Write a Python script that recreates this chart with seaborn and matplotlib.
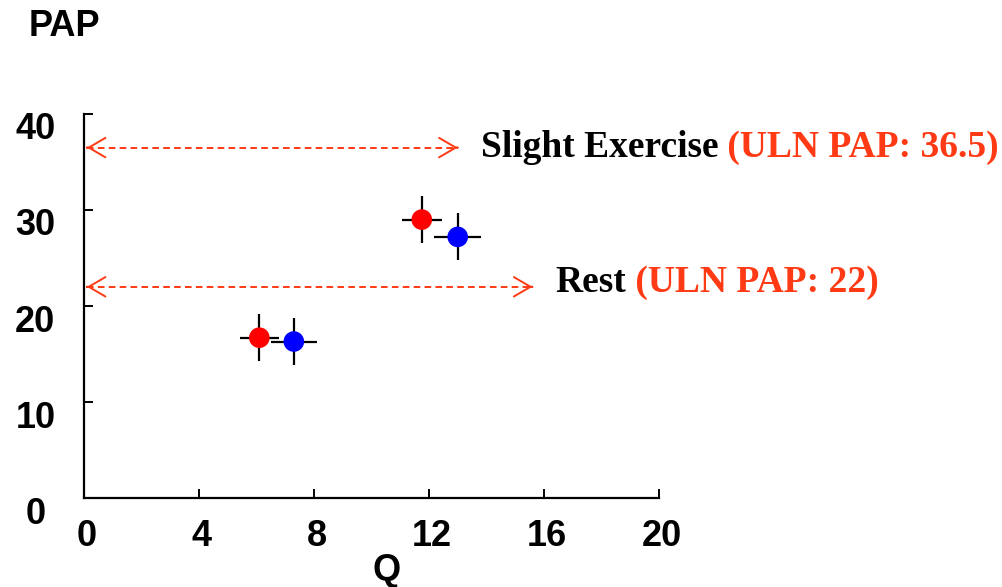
import matplotlib
matplotlib.use("Agg")
import matplotlib.pyplot as plt
import seaborn as sns
import pandas as pd
from matplotlib.transforms import ScaledTranslation

# Mean cardiac output (Q) and pulmonary artery pressure (PAP) with spread
cohort = ["A", "B", "A", "B"]
q_mean = [6.1, 7.3, 11.75, 13.0]
pap_mean = [16.7, 16.3, 29.0, 27.2]
q_err = [0.68, 0.8, 0.7, 0.82]
pap_err = [2.45, 2.45, 2.45, 2.45]

# Upper limit of normal PAP for each condition
conditions = ["Rest", "Slight Exercise"]
uln_pap = [22, 36.5]
arrow_end_q = [15.6, 13.0]

x_ticks = [0, 4, 8, 12, 16, 20]
y_ticks = [0, 10, 20, 30, 40]

df = pd.DataFrame({"cohort": cohort, "Q": q_mean, "PAP": pap_mean})

sns.set_theme(style="white")
plt.rcParams["font.family"] = ["Liberation Sans", "DejaVu Sans"]

fig = plt.figure(figsize=(10.03, 5.87), dpi=100)
ax = fig.add_axes([0.0837, 0.1516, 0.5733, 0.6542])

orange = "#FF3a14"

# error crosses behind the markers
ax.errorbar(q_mean, pap_mean, xerr=q_err, yerr=pap_err, fmt="none",
            ecolor="black", elinewidth=1.6, capsize=0, zorder=2)
sns.scatterplot(data=df, x="Q", y="PAP", hue="cohort",
                palette={"A": "#FF0000", "B": "#0000FF"}, s=220,
                edgecolor="none", legend=False, ax=ax, zorder=3)

# ULN markers: dashed double-headed arrows
for cond, uln, xe in zip(conditions, uln_pap, arrow_end_q):
    ax.plot([0.1, xe], [uln, uln], color=orange, lw=1.4,
            dashes=(3.4, 2.2), zorder=1)
    for tip, back in ((0.1, 0.11), (xe, xe - 0.01)):
        ax.annotate("", xy=(tip, uln), xytext=(back, uln),
                    arrowprops=dict(arrowstyle="->,head_length=1.2,head_width=0.7",
                                    color=orange, lw=1.4, mutation_scale=10,
                                    shrinkA=0, shrinkB=0))
    label_x = xe + 0.8
    t1 = ax.text(label_x, uln + (0.0 if uln > 30 else 0.4), cond,
                 family="Liberation Serif", fontweight="bold", fontsize=27,
                 color="black", va="center", ha="left")
    ax.annotate(f" (ULN PAP: {uln:g})", xy=(1, 0.5), xycoords=t1,
                family="Liberation Serif", fontweight="bold", fontsize=27,
                color=orange, va="center", ha="left")

ax.set_xlim(0, 20)
ax.set_ylim(0, 40)
ax.set_xticks(x_ticks)
ax.set_yticks(y_ticks)
ax.set_xticklabels([str(v) for v in x_ticks], fontsize=26, fontweight="bold")
ax.set_yticklabels([str(v) for v in y_ticks], fontsize=26, fontweight="bold")
ax.tick_params(axis="both", direction="in", length=6.5, width=1.4,
               color="black", labelcolor="black", bottom=True, left=True)
ax.tick_params(axis="x", pad=15)
ax.tick_params(axis="y", pad=35)
for lab in ax.get_yticklabels():
    lab.set_horizontalalignment("center")
    lab.set_transform(lab.get_transform() + ScaledTranslation(0, -12 / 100, fig.dpi_scale_trans))
for lab in ax.get_xticklabels():
    lab.set_transform(lab.get_transform() + ScaledTranslation(3 / 100, 0, fig.dpi_scale_trans))

for side in ("top", "right"):
    ax.spines[side].set_visible(False)
for side in ("left", "bottom"):
    ax.spines[side].set_color("black")
    ax.spines[side].set_linewidth(1.6)
ax.set_xlabel("")
ax.set_ylabel("")

fig.text(64 / 1003, 1 - 26 / 587, "PAP", fontsize=26, fontweight="bold",
         ha="center", va="center", color="black")
fig.text(387 / 1003, 1 - 570 / 587, "Q", fontsize=26, fontweight="bold",
         ha="center", va="center", color="black")

fig.savefig("out.png", dpi=100, facecolor="white")
